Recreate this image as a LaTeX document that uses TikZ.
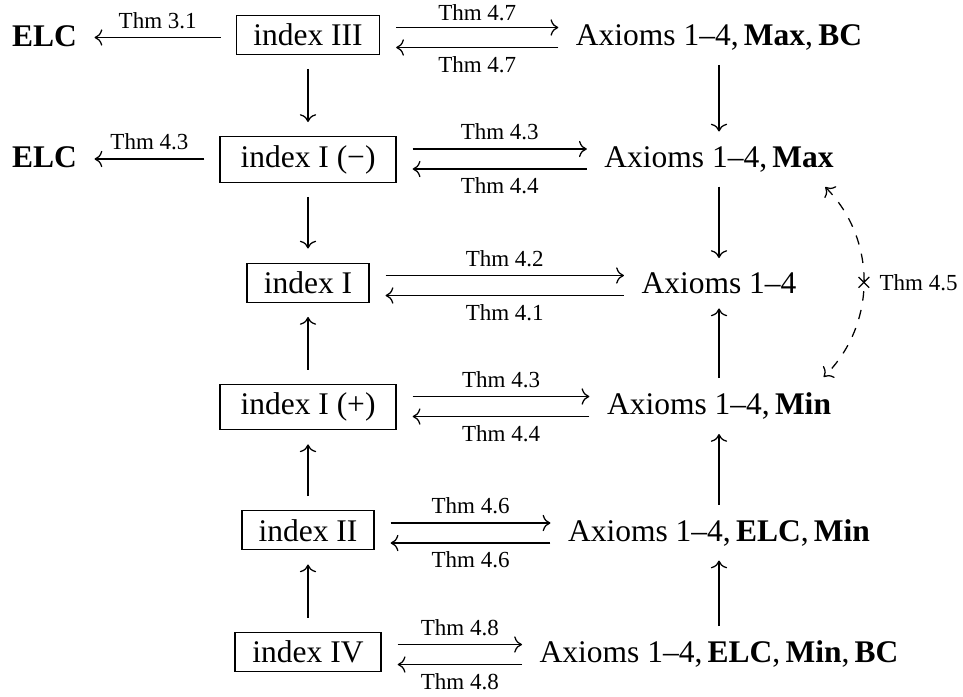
\documentclass[tikz,border=0pt]{standalone}
\usepackage{fontspec}
\setmainfont{Liberation Serif}
\usetikzlibrary{calc,cd,shapes.misc}
\begin{document}
\begin{tikzpicture}[x=0.3175pt,y=-0.3175pt, >={cm to},
  box/.style={draw, line width=0.4pt, inner xsep=0pt, inner ysep=2.7pt, anchor=base},
  txt/.style={inner sep=0pt, anchor=base},
  lbl/.style={font=\fontsize{7.3pt}{8.8pt}\selectfont, inner sep=2.6pt},
  arr/.style={->, line width=0.4pt},
  vert/.style={->, line width=0.4pt, shorten <=4.45pt, shorten >=4.45pt}]
\useasboundingbox (0,0) rectangle (963,696);

% nodes
\node[txt] (elcA) at (44.5,46.5) {\textbf{ELC}};
\node[box, minimum width=45.4pt] (iii) at (308,45.5) {index III};
\node[txt] (axA) at (719,45.5) {Axioms 1--4,\,\textbf{Max},\,\textbf{BC}};
\node[txt] (elcB) at (44.5,167) {\textbf{ELC}};
\node[box, minimum width=55.9pt] (im) at (308,167) {index I (−)};
\node[txt] (axB) at (719,167) {Axioms 1--4,\,\textbf{Max}};
\node[box, minimum width=38.7pt] (i) at (308,293.5) {index I};
\node[txt] (axC) at (719,293.5) {Axioms 1--4};
\node[box, minimum width=55.9pt] (ip) at (308,414.5) {index I (+)};
\node[txt] (axD) at (719,414.5) {Axioms 1--4,\,\textbf{Min}};
\node[box, minimum width=41.9pt] (ii) at (308,541) {index II};
\node[txt] (axE) at (719,541) {Axioms 1--4,\,\textbf{ELC},\,\textbf{Min}};
\node[box, minimum width=46.4pt] (iv) at (308,662.5) {index IV};
\node[txt] (axF) at (719,662.5) {Axioms 1--4,\,\textbf{ELC},\,\textbf{Min},\,\textbf{BC}};

% row 1
\draw[arr] ($(iii.base west)+(-15,-8)$) -- node[lbl,above]{Thm 3.1} ($(elcA.base east)+(17,-9)$);
\draw[arr] ($(iii.base east)+(16,-18)$) -- node[lbl,above,inner sep=1.8pt]{Thm 4.7} ($(axA.base west)+(-17,-18)$);
\draw[arr] ($(axA.base west)+(-17,2)$) -- node[lbl,below]{Thm 4.7} ($(iii.base east)+(16,2)$);
% row 2
\draw[arr] ($(im.base west)+(-15,-8)$) -- node[lbl,above]{Thm 4.3} ($(elcB.base east)+(17,-8)$);
\draw[arr] ($(im.base east)+(16,-18)$) -- node[lbl,above]{Thm 4.3} ($(axB.base west)+(-17,-18)$);
\draw[arr] ($(axB.base west)+(-17,2)$) -- node[lbl,below]{Thm 4.4} ($(im.base east)+(16,2)$);
% row 3
\draw[arr] ($(i.base east)+(16,-18)$) -- node[lbl,above]{Thm 4.2} ($(axC.base west)+(-17,-18)$);
\draw[arr] ($(axC.base west)+(-17,2)$) -- node[lbl,below]{Thm 4.1} ($(i.base east)+(16,2)$);
% row 4
\draw[arr] ($(ip.base east)+(16,-18)$) -- node[lbl,above]{Thm 4.3} ($(axD.base west)+(-17,-18)$);
\draw[arr] ($(axD.base west)+(-17,2)$) -- node[lbl,below]{Thm 4.4} ($(ip.base east)+(16,2)$);
% row 5
\draw[arr] ($(ii.base east)+(16,-18)$) -- node[lbl,above]{Thm 4.6} ($(axE.base west)+(-17,-18)$);
\draw[arr] ($(axE.base west)+(-17,2)$) -- node[lbl,below]{Thm 4.6} ($(ii.base east)+(16,2)$);
% row 6
\draw[arr] ($(iv.base east)+(16,-18)$) -- node[lbl,above]{Thm 4.8} ($(axF.base west)+(-17,-18)$);
\draw[arr] ($(axF.base west)+(-17,2)$) -- node[lbl,below]{Thm 4.8} ($(iv.base east)+(16,2)$);

% vertical arrows
\draw[vert] (iii) -- (im);
\draw[vert] (im) -- (i);
\draw[vert] (ip) -- (i);
\draw[vert] (ii) -- (ip);
\draw[vert] (iv) -- (ii);
\draw[vert] (axA) -- (axB);
\draw[vert] (axB) -- (axC);
\draw[vert] (axD) -- (axC);
\draw[vert] (axE) -- (axD);
\draw[vert] (axF) -- (axE);

% dashed bidirectional arrow
\coordinate (dA) at ($(axB.south east)+(-9,14.5)$);
\coordinate (dB) at ($(axD.north east)+(-8,-15)$);
\draw[<->, dashed, line width=0.4pt] (dA) to[bend left=45]
  node[pos=0.5, cross out, draw, solid, line width=0.4pt, minimum size=3pt, inner sep=0pt] (cross) {}
  node[pos=0.5, anchor=west, inner sep=0pt, xshift=4.8pt, font=\fontsize{7.3pt}{8.8pt}\selectfont] (t45) {Thm 4.5}
  (dB);
\end{tikzpicture}
\end{document}
